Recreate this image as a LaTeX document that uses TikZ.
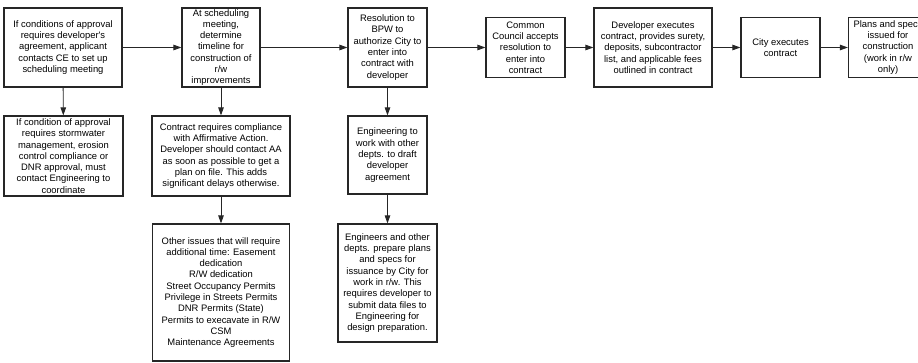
\documentclass[tikz,border=0pt]{standalone}
\usepackage{fontspec}
\newfontfamily\flowfont{Liberation Sans}
\usetikzlibrary{arrows.meta}
\newcommand{\flowsize}{\flowfont\fontsize{9.4}{11.3}\selectfont}

\begin{document}
\begin{tikzpicture}[x=1pt,y=-1pt,
    stepbox/.style={draw=black!85,line width=1.2pt,align=center,inner sep=0pt,font=\flowsize},
    flow/.style={draw=black!85,line width=0.9pt,-{Triangle[length=8pt,width=5.5pt]}}]
    \useasboundingbox (0,0) rectangle (918,362);
    \clip (0,0) rectangle (918,362);
    \path (63,47.5) node[stepbox,minimum width=118pt,minimum height=79pt](b1)
        {If conditions of approval\\requires developer's\\agreement, applicant\\contacts CE to set up\\scheduling meeting}
      (221,47.5) node[stepbox,minimum width=78pt,minimum height=79pt](b2){}
      (b2) node[align=center,inner sep=0pt,font=\flowsize](b2text)
        {At scheduling\\meeting,\\determine\\timeline for\\construction of\\r/w\\improvements}
      (387.5,47.5) node[stepbox,minimum width=79pt,minimum height=79pt](b3)
        {Resolution to\\BPW to\\authorize City to\\enter into\\contract with\\developer}
      (525.5,47.5) node[stepbox,minimum width=79pt,minimum height=60pt](b4)
        {Common\\Council accepts\\resolution to\\enter into\\contract}
      (653,47.5) node[stepbox,minimum width=118pt,minimum height=79pt](b5)
        {Developer executes\\contract, provides surety,\\deposits, subcontractor\\list, and applicable fees\\outlined in contract}
      (780.5,47.5) node[stepbox,minimum width=79pt,minimum height=60pt](b6)
        {City executes\\contract}
      (888,47.5) node[stepbox,minimum width=79pt,minimum height=60pt](b7)
        {Plans and specs\\issued for\\construction\\(work in r/w\\only)};
    \path (63.5,156) node[stepbox,minimum width=119pt,minimum height=80pt](b1b)
        {If condition of approval\\requires stormwater\\management, erosion\\control compliance or\\DNR approval, must\\contact Engineering to\\coordinate}
      (221,156) node[stepbox,minimum width=138pt,minimum height=80pt](b2b)
        {Contract requires compliance\\with Affirmative Action.\\Developer should contact AA\\as soon as possible to get a\\plan on file. This adds\\significant delays otherwise.}
      (221,292.5) node[stepbox,minimum width=137pt,minimum height=137pt](b2c)
        {Other issues that will require\\additional time: Easement\\dedication\\R/W dedication\\Street Occupancy Permits\\Privilege in Streets Permits\\DNR Permits (State)\\Permits to execavate in R/W\\CSM\\Maintenance Agreements}
      (387.5,155) node[stepbox,minimum width=79pt,minimum height=78pt](b3b)
        {Engineering to\\work with other\\depts. to draft\\developer\\agreement}
      (387.5,283) node[stepbox,minimum width=99pt,minimum height=118pt](b3c)
        {Engineers and other\\depts. prepare plans\\and specs for\\issuance by City for\\work in r/w. This\\requires developer to\\submit data files to\\Engineering for\\design preparation.};

    \draw[flow] (b1) -- (b2);
    \draw[flow] (b2) -- (b3);
    \draw[flow] (b3) -- (b4);
    \draw[flow] (b4) -- (b5);
    \draw[flow] (b5) -- (b6);
    \draw[flow] (b6) -- (b7);
    \draw[flow] (b1) -- (b1b);
    \draw[flow] (b2) -- (b2b);
    \draw[flow] (b2b) -- (b2c);
    \draw[flow] (b3) -- (b3b);
    \draw[flow] (b3b) -- (b3c);
\end{tikzpicture}
\end{document}
